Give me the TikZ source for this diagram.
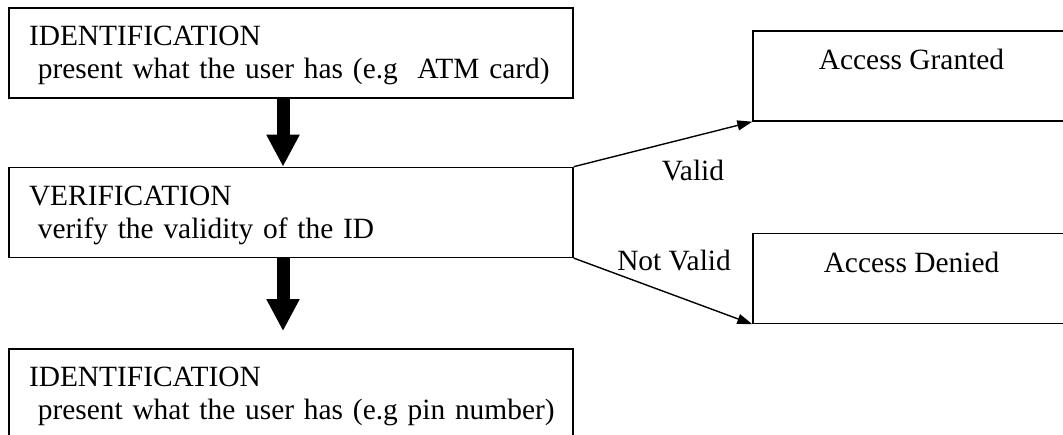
\documentclass[tikz,border=0pt]{standalone}
\usepackage{fontspec}
\setmainfont{Liberation Serif}
\usepackage{tikz}
\usetikzlibrary{arrows.meta, positioning}
\newcommand{\diagfont}{\fontsize{14.7}{16.5}\selectfont}
\newcommand{\topstrut}{\rule{0pt}{12.5pt}}

\begin{document}
\begin{tikzpicture}[
    x=0.5pt, y=-0.5pt,
    every node/.style={font=\diagfont},
    stage/.style={rectangle, draw, line width=0.7pt, minimum width=282pt, minimum height=45pt, text width=262pt, inner xsep=10pt, align=left},
    result/.style={rectangle, draw, line width=0.7pt, minimum width=158.5pt, minimum height=45pt},
    bigarrow/.style={-{Triangle[length=16pt, width=15.5pt]}, line width=6.5pt},
    arrow/.style={-{Triangle[length=7.5pt, width=5pt]}, line width=0.7pt}
]
    \useasboundingbox (0,0) rectangle (1063,434);

    \node[stage] (ident) at (291,53) {\topstrut IDENTIFICATION\\\mbox{\hspace*{0.3em}present what the user has (e.g\ \ ATM card)}};
    \node[stage, below=34pt of ident] (verify) {\topstrut VERIFICATION\\\mbox{\hspace*{0.3em}verify the validity of the ID}};
    \node[stage, below=45pt of verify] (pin) {\topstrut IDENTIFICATION\\\mbox{\hspace*{0.3em}present what the user has (e.g pin number)}};

    \node[result, label={[anchor=north, yshift=-6pt]north:Access Granted}] (granted) at (911.5,76) {};
    \node[result, label={[anchor=north, yshift=-6pt]north:Access Denied}] (denied) at (911.5,278.5) {};

    \draw[bigarrow] ([xshift=-4pt]ident.south) -- ([xshift=-4pt]verify.north);
    \draw[bigarrow, shorten >=8.5pt] ([xshift=-4pt]verify.south) -- ([xshift=-4pt]pin.north);

    % outcomes of the check
    \draw[arrow] (verify.north east) -- (granted.south west);
    \draw[arrow] (verify.south east) -- (denied.south west);
    \node (valid) at (693,171) {Valid};
    \node (notvalid) at (674,261) {Not Valid};
\end{tikzpicture}
\end{document}
